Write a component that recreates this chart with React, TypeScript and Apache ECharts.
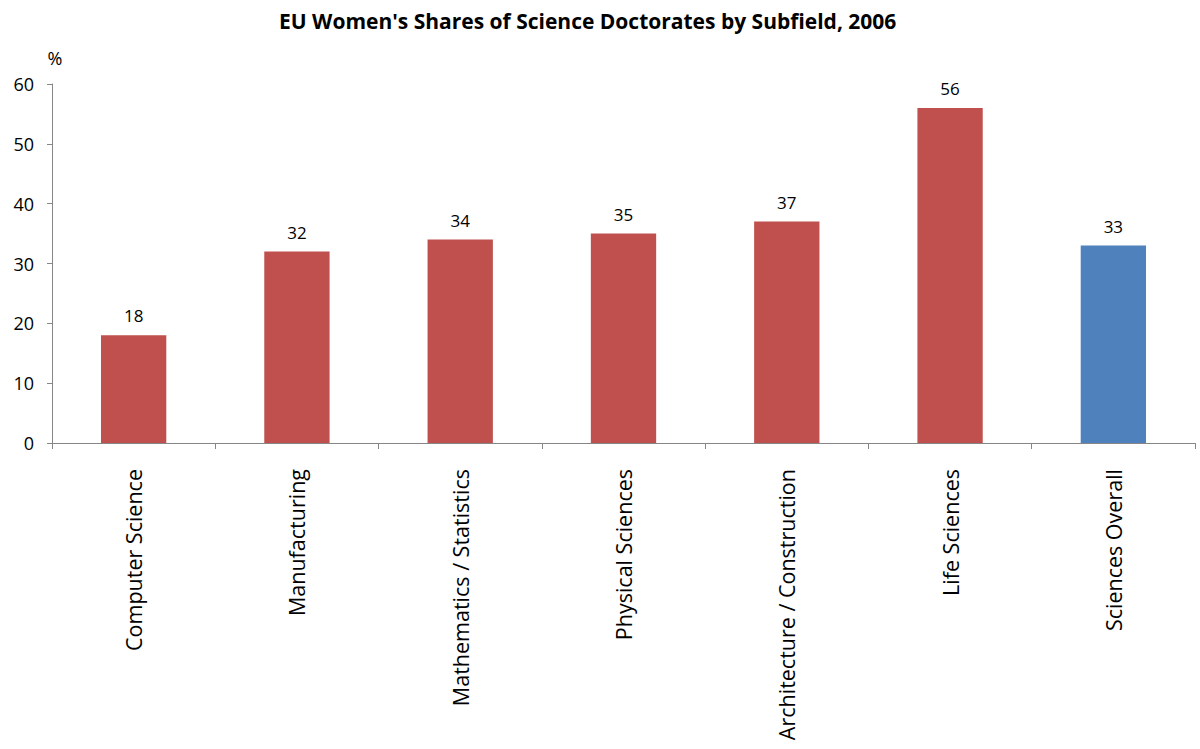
import React, { useEffect, useRef } from "react";
import * as echarts from "echarts";

const categories = [
  "Computer Science",
  "Manufacturing",
  "Mathematics / Statistics",
  "Physical Sciences",
  "Architecture / Construction",
  "Life Sciences",
  "Sciences Overall",
];
const values = [18, 32, 34, 35, 37, 56, 33];
const barColors = ["#c0504d", "#c0504d", "#c0504d", "#c0504d", "#c0504d", "#c0504d", "#4f81bd"];
const yTicks = { min: 0, max: 60, interval: 10 };

const FONT = "'Open Sans', 'Liberation Sans', sans-serif";

export default function App() {
  const ref = useRef<HTMLDivElement>(null);
  useEffect(() => {
    const chart = echarts.init(ref.current!, null, { renderer: "svg" });
    chart.setOption({
      animation: false,
      backgroundColor: "#ffffff",
      title: {
        text: "EU Women's Shares of Science Doctorates by Subfield, 2006",
        left: 274,
        top: 5,
        textStyle: { fontFamily: FONT, fontSize: 21, fontWeight: "bold", color: "#000" },
      },
      grid: { left: 52, right: 5, top: 84, bottom: 306 },
      xAxis: {
        type: "category",
        data: categories,
        axisLine: { lineStyle: { color: "#868686" } },
        axisTick: { show: true, alignWithLabel: false, length: 6, lineStyle: { color: "#868686" } },
        axisLabel: {
          rotate: 90,
          margin: 26,
          interval: 0,
          color: "#000",
          fontFamily: FONT,
          fontSize: 21.5,
        },
      },
      yAxis: {
        type: "value",
        min: yTicks.min,
        max: yTicks.max,
        interval: yTicks.interval,
        name: "%",
        nameLocation: "end",
        nameGap: 17,
        nameTextStyle: { fontFamily: FONT, fontSize: 18, color: "#000", align: "center", padding: [0, 0, 0, 6] },
        splitLine: { show: false },
        axisLine: { show: true, lineStyle: { color: "#868686" } },
        axisTick: { show: true, length: 5, lineStyle: { color: "#868686" } },
        axisLabel: { color: "#000", fontFamily: FONT, fontSize: 18, margin: 18 },
      },
      series: [
        {
          type: "bar",
          barWidth: "40%",
          data: values.map((v, i) => ({ value: v, itemStyle: { color: barColors[i] } })),
          label: {
            show: true,
            position: "top",
            distance: 11,
            color: "#000",
            fontFamily: FONT,
            fontSize: 17,
          },
        },
      ],
    });
    return () => chart.dispose();
  }, []);
  return (
    <div
      ref={ref}
      style={{ position: "absolute", left: 0, top: 0, width: 1200, height: 749 }}
    />
  );
}
